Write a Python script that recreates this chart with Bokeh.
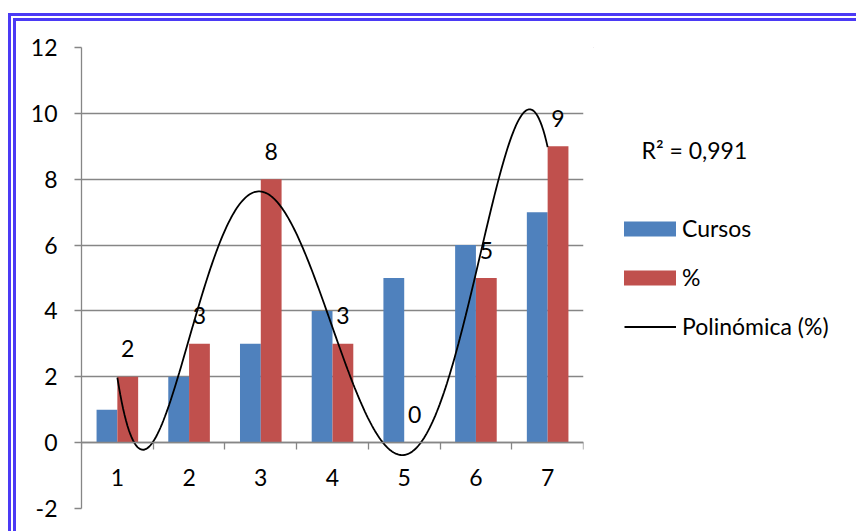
import numpy as np
from bokeh.plotting import figure
from bokeh.layouts import row
from bokeh.models import (Range1d, FixedTicker, Legend, LegendItem, Label,
                          LinearAxis, ColumnDataSource)
from bokeh.transform import dodge
from bokeh.embed import file_html
from bokeh.resources import INLINE
from bokeh.core.properties import value

# ---- data ----
categories = [1, 2, 3, 4, 5, 6, 7]
cursos = [1, 2, 3, 4, 5, 6, 7]
pct = [2, 3, 8, 3, 0, 5, 9]
y_ticks = [-2, 0, 2, 4, 6, 8, 10, 12]
series_names = ["Cursos", "%", "Polinómica (%)"]
r2_text = "R² = 0,991"
trend_degree = 5

FONT = "Lato"
FS = "23px"
GRID = "#868686"
BLUE = "#4F81BD"
RED = "#C0504D"
BORDER = "#4B3AF5"

p = figure(output_backend="svg", toolbar_location=None,
           x_range=Range1d(0.5, 7.5), y_range=Range1d(-2, 12),
           x_axis_location=None, y_axis_location="left",
           frame_width=502, frame_height=461,
           min_border_left=65, min_border_right=10,
           min_border_top=26, min_border_bottom=23)
p.outline_line_color = None
p.background_fill_color = "white"
p.border_fill_color = "white"

# y axis
yax = p.yaxis[0]
yax.ticker = FixedTicker(ticks=y_ticks)
yax.axis_line_color = GRID
yax.axis_line_width = 1.3
yax.major_tick_line_color = GRID
yax.major_tick_line_width = 1.3
yax.major_tick_out = 7
yax.major_tick_in = 0
yax.minor_tick_line_color = None
yax.major_label_text_font = FONT
yax.major_label_text_font_size = FS
yax.major_label_text_color = "black"
yax.major_label_standoff = 17
yax.major_label_overrides = {t: str(t) for t in y_ticks}

p.ygrid.ticker = FixedTicker(ticks=y_ticks)
p.ygrid.grid_line_color = GRID
p.ygrid.grid_line_width = 1.3
p.xgrid.visible = False

# x axis crossing at 0
bounds = [c - 0.5 for c in categories] + [categories[-1] + 0.5]
xax = LinearAxis(fixed_location=0,
                 ticker=FixedTicker(ticks=categories, minor_ticks=bounds))
xax.axis_line_color = GRID
xax.axis_line_width = 1.3
xax.major_tick_out = 0
xax.major_tick_in = 0
xax.major_tick_line_color = None
xax.minor_tick_out = 7
xax.minor_tick_in = 0
xax.minor_tick_line_color = GRID
xax.minor_tick_line_width = 1.3
xax.major_label_text_font = FONT
xax.major_label_text_font_size = FS
xax.major_label_text_color = "black"
xax.major_label_standoff = 19
p.add_layout(xax, "below")

# bars
src = ColumnDataSource(dict(cat=categories, cursos=cursos, pct=pct,
                            lbl=[str(v) for v in pct]))
p.vbar(x=dodge("cat", -0.145), top="cursos", bottom=0, width=0.29,
       source=src, fill_color=BLUE, line_color=None)
p.vbar(x=dodge("cat", 0.145), top="pct", bottom=0, width=0.29,
       source=src, fill_color=RED, line_color=None)

# trendline (polynomial fit of the % series)
coef = np.polyfit(categories, pct, trend_degree)
xs = np.linspace(categories[0], categories[-1], 300)
ys = np.polyval(coef, xs)
p.line(xs, ys, line_color="black", line_width=1.8)

# data labels
p.text(x=dodge("cat", 0.145), y="pct", text="lbl", source=src, y_offset=-28,
       text_align="center", text_baseline="middle",
       text_font=value(FONT), text_font_size=FS, text_color="black")

# ---- legend / R² panel (frame aligned with the main plot) ----
q = figure(width=263, output_backend="svg", toolbar_location=None,
           frame_height=461,
           x_range=Range1d(0, 263), y_range=Range1d(487, 26),
           x_axis_location=None, y_axis_location=None,
           min_border_left=0, min_border_right=0,
           min_border_top=26, min_border_bottom=23)
q.outline_line_color = None
q.xgrid.visible = False
q.ygrid.visible = False
q.border_fill_color = "white"

q.add_layout(Label(x=48, y=128, text=r2_text, text_font=FONT,
                   text_font_size=FS, text_color="black",
                   text_align="left", text_baseline="middle"))

# swatch renderers for the legend (kept outside the visible range)
swatch = ColumnDataSource(dict(x=[-1000], top=[-1000], y=[-1000]))
r_c = q.vbar(x="x", top="top", width=1, source=swatch,
             fill_color=BLUE, line_color=None)
r_p = q.vbar(x="x", top="top", width=1, source=swatch,
             fill_color=RED, line_color=None)
r_l = q.line(x="x", y="y", source=swatch, line_color="black", line_width=1.8)


def make_legend(label, rend, loc, gw, standoff):
    return Legend(items=[LegendItem(label=label, renderers=[rend])],
                  location=loc, orientation="vertical",
                  glyph_width=gw, glyph_height=19, label_standoff=standoff,
                  padding=0, margin=0, border_line_color=None,
                  background_fill_alpha=0, label_text_color="black",
                  label_text_font=FONT, label_text_font_size=FS)


q.add_layout(make_legend(series_names[0], r_c, (24, 266), 65, 0))
q.add_layout(make_legend(series_names[1], r_p, (24, 217), 65, 0))
q.add_layout(make_legend(series_names[2], r_l, (31, 168), 52, 6))

lay = row(p, q, styles={"border-left": "8px double " + BORDER,
                        "border-top": "8px double " + BORDER,
                        "margin-left": "8px", "margin-top": "13px"})

open("out.html", "w").write(file_html(lay, INLINE))
